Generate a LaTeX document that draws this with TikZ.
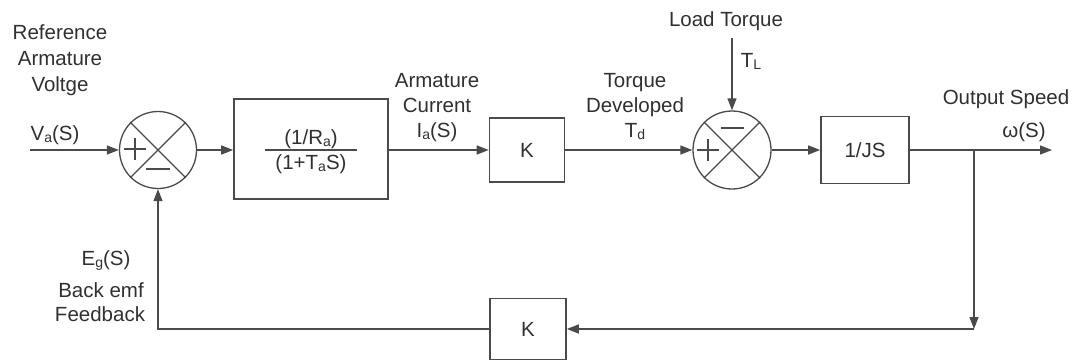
\documentclass[tikz,border=0pt]{standalone}
\usepackage{fontspec}
\setmainfont{Liberation Sans}
\usetikzlibrary{arrows.meta}
\definecolor{ln}{HTML}{4A4A4A}
\definecolor{txt}{HTML}{303030}
\newcommand\subs[1]{\raisebox{-0.25ex}{\fontsize{14}{14}\selectfont #1}}
\begin{document}
\begin{tikzpicture}[x=1pt,y=-1pt,
  every node/.style={font=\fontsize{20.5}{24}\selectfont},
  blk/.style={draw=ln, line width=1.6pt, rectangle, inner sep=0pt, text=txt},
  sumj/.style={draw=ln, line width=1.3pt, circle, inner sep=0pt},
  lbl/.style={anchor=base, inner sep=0pt, text=txt},
  wire/.style={draw=ln, line width=1.3pt},
  arr/.style={wire, -{Triangle[length=12pt,width=9pt]}},
  sign/.style={draw=ln, line width=1.3pt}]
\useasboundingbox (0,0) rectangle (1078,361);
% blocks
\node[sumj, minimum size=77pt] (s1) at (158,150) {};
\node[blk, minimum width=154pt, minimum height=100pt] (b1) at (311,149) {};
\node[blk, minimum width=75pt, minimum height=64pt] (k1) at (527,150) {K};
\node[sumj, minimum size=78pt] (s2) at (732,150) {};
\node[blk, minimum width=88pt, minimum height=67pt] (js) at (865,150) {1/JS};
\node[blk, minimum width=76pt, minimum height=61pt] (k2) at (528,329) {K};
% fraction
\node[lbl] (num) at (311,144) {(1/R\subs{a})};
\node[lbl] (den) at (311,169) {(1+T\subs{a}S)};
\coordinate (fl) at (265,150);
\coordinate (fr) at (357,150);
\draw[wire] (fl) -- (fr);
% crosses in junctions
\draw[sign] (s1.north west) -- (s1.south east);
\draw[sign] (s1.north east) -- (s1.south west);
\draw[sign] (s2.north west) -- (s2.south east);
\draw[sign] (s2.north east) -- (s2.south west);
% plus / minus
\coordinate (p1a) at (124,149); \coordinate (p1b) at (146,149);
\coordinate (p1c) at (135,138); \coordinate (p1d) at (135,160);
\draw[sign] (p1a) -- (p1b); \draw[sign] (p1c) -- (p1d);
\coordinate (m1a) at (146,169); \coordinate (m1b) at (170,169);
\draw[sign] (m1a) -- (m1b);
\coordinate (p2a) at (697,150); \coordinate (p2b) at (719,150);
\coordinate (p2c) at (708,139); \coordinate (p2d) at (708,161);
\draw[sign] (p2a) -- (p2b); \draw[sign] (p2c) -- (p2d);
\coordinate (m2a) at (721,128); \coordinate (m2b) at (744,128);
\draw[sign] (m2a) -- (m2b);
% coordinates
\coordinate (in) at (30,150);
\coordinate (lt) at (732,38);
\coordinate (out) at (1052,150);
\coordinate (br) at (974,150);
\coordinate (fbc) at (974,329);
\coordinate (fbl) at (158,329);
% connectors
\draw[arr] (in) -- (s1.west);
\draw[arr] (s1.east) -- (b1.west |- s1.east);
\draw[arr] (b1.east |- k1.west) -- (k1.west);
\draw[arr] (k1.east) -- (s2.west);
\draw[arr] (lt) -- (s2.north);
\draw[arr] (s2.east) -- (js.west);
\draw[arr] (js.east) -- (out);
\draw[arr] (br) -- (fbc);
\draw[arr] (fbc) -- (k2.east);
\draw[arr] (k2.west) -- (fbl) -- (s1.south);
% labels
\node[lbl] (r1) at (60,40) {Reference};
\node[lbl] (r2) at (60,66) {Armature};
\node[lbl] (r3) at (60,92) {Voltge};
\node[lbl] (va) at (55,140) {V\subs{a}(S)};
\node[lbl] (a1) at (437,87) {Armature};
\node[lbl] (a2) at (437,112) {Current};
\node[lbl] (a3) at (437,137) {I\subs{a}(S)};
\node[lbl] (t1) at (635,87) {Torque};
\node[lbl] (t2) at (635,112) {Developed};
\node[lbl] (t3) at (635,137) {T\subs{d}};
\node[lbl] (ld) at (726,27) {Load Torque};
\node[lbl] (tl) at (751,67) {T\subs{L}};
\node[lbl] (os) at (1006,104) {Output Speed};
\node[lbl] (om) at (1024,137) {ω(S)};
\node[lbl] (eg) at (106,265) {E\subs{g}(S)};
\node[lbl] (be) at (101,297) {Back emf};
\node[lbl] (fb) at (100,321) {Feedback};
\end{tikzpicture}
\end{document}
